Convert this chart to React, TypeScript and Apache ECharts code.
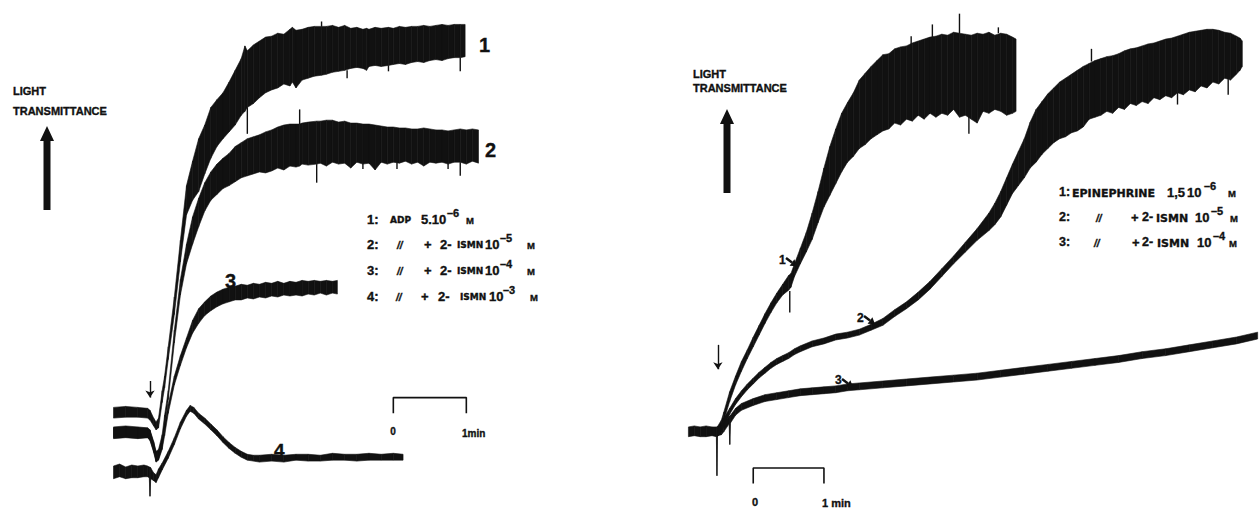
import React, { useEffect, useRef } from "react";
import * as echarts from "echarts";

const INK = "#111111";
const SANS = '"Liberation Sans", Arial, Helvetica, sans-serif';
const WIDE = '"DejaVu Sans", "Liberation Sans", sans-serif';

// ---------- Left panel: ADP 5.10^-6 M (time in s after addition, transmittance in arbitrary units)
const L1_T = [-30, -20, -10, -2, 0, 3, 5, 7, 10, 12, 15, 20, 25, 30, 35, 40, 45, 50, 55, 60, 65, 70, 75, 78, 80, 85, 90, 95, 100, 105, 110, 115, 117, 120, 125, 130, 135, 141, 145, 150, 155, 160, 165, 170, 175, 178, 180, 185, 190, 196, 200, 205, 210, 215, 220, 225, 230, 235, 240, 245, 250, 255, 259];
const L1_HI = [20.75, 21, 20.75, 20.5, 20, 18, 17, 18, 25, 28.75, 36.25, 49, 63.5, 77.5, 83.75, 89.5, 93, 97.5, 99.5, 101.25, 104, 107, 110, 113.25, 112, 113.5, 114.5, 115.5, 115.75, 116.5, 116.25, 117.5, 118, 117.25, 117.5, 118, 118.25, 118.25, 118.25, 118.5, 118, 118.5, 117.75, 118, 117.5, 117.75, 117.5, 118, 117.75, 118, 117.75, 118.25, 118, 118.25, 118.25, 118.5, 118.25, 118.5, 118.75, 118.5, 118.75, 118.75, 118.75];
const L1_LO = [18, 18.25, 18.25, 18, 17.5, 16, 15, 15.5, 22, 25.75, 33, 44.5, 58, 70, 73.75, 76, 80.5, 84.5, 87.5, 89.5, 91.25, 93, 95.5, 96.5, 97.5, 98.5, 100, 101.25, 102, 102.5, 103.5, 103, 104, 102.5, 104.5, 105, 105.5, 105.75, 106, 106.5, 106.75, 107, 107.5, 107.75, 107.5, 107, 108, 108.25, 108, 108.25, 108.5, 108.75, 108.5, 109, 109.25, 109, 109.5, 109.75, 109.5, 110, 110.25, 110.25, 110.5];

const L2_T = [-30, -20, -10, -2, 0, 3, 5, 7, 10, 12, 15, 20, 25, 30, 35, 40, 45, 50, 55, 60, 65, 70, 75, 80, 85, 90, 95, 100, 105, 110, 115, 120, 123, 125, 130, 137, 140, 145, 150, 155, 160, 165, 170, 175, 180, 185, 190, 195, 200, 205, 210, 215, 220, 225, 230, 235, 240, 245, 250, 255, 260, 265, 270];
const L2_HI = [15.75, 16, 15.75, 15.5, 15, 12, 9.5, 10, 13.75, 18.75, 25, 40.5, 53.5, 62.5, 69.5, 74.25, 78.25, 81, 83, 84.5, 85.75, 87.5, 88.5, 89.5, 90, 90.5, 91.25, 91.75, 92.5, 93, 93.25, 93.25, 93.25, 93.5, 93.75, 94, 94, 94.25, 94.25, 93.75, 94, 93.5, 93.5, 93.25, 93.25, 93, 92.75, 92.5, 92.5, 92.25, 92.25, 92, 92, 92.25, 92, 91.75, 91.75, 91.5, 91.75, 92, 91.75, 92, 91.75];
const L2_LO = [13, 13.25, 13, 13, 12.5, 9.5, 7, 7.5, 11, 15.75, 22.75, 37.25, 49.5, 57.5, 62.5, 67, 71, 73.75, 75.25, 76.75, 77.5, 78.5, 79.5, 80, 80.5, 81, 80.75, 81.25, 82, 81.5, 82.5, 82.25, 82.5, 83, 82.75, 83, 83.25, 82.5, 83.5, 83, 83.25, 82, 83.5, 83, 83.25, 81.5, 83.5, 83, 83.5, 83.25, 83.75, 83, 83.5, 82.5, 83.5, 83.25, 83.5, 83, 83.5, 83.5, 83, 83.75, 83.25];

const L3_T = [-30, -20, -10, -2, 0, 3, 5, 7, 10, 12, 15, 20, 25, 30, 35, 40, 45, 50, 55, 60, 65, 70, 75, 80, 85, 90, 95, 100, 105, 110, 115, 120, 125, 130, 135, 140, 145, 150, 154];
const L3_HI = [15.5, 15.75, 15.5, 15.5, 14.75, 11.75, 9.25, 9.5, 12.5, 16.25, 21.5, 28.75, 34, 38.5, 43, 46, 47.75, 49.25, 50.25, 51, 51.5, 51.75, 52.25, 52, 52.5, 52.25, 52.75, 52.5, 53, 52.5, 53, 52.75, 53.25, 53, 53.25, 53, 53.25, 53, 53.25];
const L3_LO = [12.75, 13, 12.75, 13, 12.25, 9.25, 6.75, 7.25, 10, 13.5, 19.25, 26.5, 31.5, 36, 39.75, 42.25, 44.25, 45.5, 46.5, 47.25, 47.75, 48.25, 48.25, 48.75, 48.5, 49, 48.75, 49.25, 49, 49.5, 49.25, 49.5, 49.25, 49.75, 49.5, 50, 49.5, 50, 49.75];

const L4_T = [-30, -25, -20, -15, -10, -5, -2, -0.6, 0, 0.6, 3, 5, 7, 10, 15, 20, 25, 30, 33, 36, 40, 45, 50, 55, 60, 65, 70, 75, 80, 85, 90, 100, 110, 120, 130, 140, 150, 160, 170, 180, 190, 200, 208];
const L4_HI = [5.75, 6.25, 5.5, 6, 5.75, 6, 5.75, 5.5, 5.5, 5.25, 4, 3.5, 5, 6.5, 9.5, 13, 17, 20, 21.25, 20.75, 19.25, 18, 16.5, 15, 13.25, 11.75, 10.5, 9.5, 8.75, 8.5, 8.5, 8.75, 8.5, 8.75, 8.75, 8.5, 9, 8.75, 8.75, 9, 8.75, 9, 8.75];
const L4_LO = [2.5, 3, 2.5, 2.75, 2.75, 3, 3, 2.75, -2, 2.5, 2, 1.5, 2.75, 4.75, 7.75, 11.25, 15.25, 18.5, 19.75, 19.25, 17.75, 16.5, 15, 13.5, 11.75, 10.25, 9, 8, 7.25, 7, 6.75, 7, 6.75, 7.25, 7, 7, 7.25, 7.25, 7, 7.25, 7.25, 7.25, 7.25];

// Isolated noise spikes: time, band edge, spike tip
const LS_T = [80, 141, 162, 196, 255, 123, 137, 175, 203, 245, 255];
const LS_A = [97.5, 118.25, 107, 108.25, 110.25, 93.25, 83, 83, 83.5, 83, 83.5];
const LS_B = [90.75, 119.5, 105, 106.75, 106.75, 97, 78.25, 81.75, 81.75, 81.75, 80];

// ---------- Right panel: epinephrine 1,5 10^-6 M
const R1_T = [-25, -20, -15, -10, -5, -1.3, -0.8, -0.3, 0, 3, 5, 10, 15, 20, 25, 30, 35, 40, 45, 50, 55, 60, 62, 65, 70, 75, 80, 85, 90, 95, 100, 105, 110, 115, 120, 125, 130, 135, 140, 145, 150, 155, 160, 165, 170, 175, 180, 185, 190, 195, 200, 205, 210, 215, 220, 225, 230, 235, 240, 245, 250, 253];
const R1_HI = [15.75, 16, 15.75, 16, 15.75, 15.75, 15.75, 15.75, 16, 17.5, 19.5, 24.75, 28.75, 32.5, 35.5, 38.75, 41.75, 44.75, 47.5, 50, 52.25, 54.5, 55, 57.5, 61.5, 65.5, 70.5, 76, 82, 87.5, 92, 96, 98.75, 101.25, 104.5, 106.25, 108, 109.5, 111, 111.25, 112.5, 113, 113.25, 114, 114.5, 115, 115.5, 115.75, 116.25, 116, 116.75, 116.5, 116.25, 116, 116.5, 116.25, 116.75, 116, 116.5, 116.25, 115.5, 115];
const R1_LO = [13.25, 13.5, 13.25, 13.25, 13.5, 13.25, 3.25, 13.25, 13.5, 15, 17.25, 22.25, 26.5, 30, 33.25, 36.25, 39.25, 42.25, 45, 47.5, 49.5, 50.75, 51.5, 54.25, 57.5, 60.5, 63.75, 68, 72, 75, 78, 81, 83.5, 85, 87, 88, 89.5, 90.5, 91.5, 92, 93.5, 93, 94.5, 94, 95.5, 94.5, 96, 95, 96, 95.5, 97, 95, 95.5, 94.5, 93.5, 96.5, 96, 97, 96.5, 95.5, 96, 96.5];

const R2_T = [0, 3, 5, 10, 15, 20, 25, 30, 35, 40, 45, 50, 55, 60, 65, 70, 80, 90, 100, 110, 120, 130, 140, 150, 160, 170, 180, 190, 200, 210, 220, 230, 235, 240, 245, 250, 255, 260, 265, 270, 275, 280, 285, 290, 295, 300, 305, 310, 315, 320, 325, 330, 335, 340, 345, 350, 355, 360, 365, 370, 375, 380, 385, 390, 395, 400, 405, 410, 415, 420, 425, 430, 435, 440, 443, 445];
const R2_HI = [15.75, 16.75, 18, 20.5, 23, 25, 26.75, 28.25, 29.75, 31, 32.25, 33.25, 34, 34.75, 35.75, 36.5, 37.75, 38.5, 39.5, 40, 40.75, 42, 43.5, 45.75, 47.75, 50.25, 53, 56.25, 59.5, 63, 66.5, 70.5, 73, 76, 79.5, 83, 86.25, 89.5, 93.75, 97, 99, 101, 102.5, 104, 105, 106, 107, 108, 108.75, 109.5, 110, 110.5, 110.75, 111.25, 112, 112.5, 112.75, 113.25, 113.75, 114, 114.5, 115, 115.25, 115.75, 116.25, 116.75, 117, 117.25, 117.5, 117.5, 117.25, 116.75, 116.5, 115.75, 115.25, 114.5];
const R2_LO = [13.5, 14.5, 15.75, 19, 21.5, 23.5, 25.25, 26.75, 28.25, 29.5, 30.75, 31.75, 32.5, 33.25, 34.25, 35, 36.25, 37, 38, 38.5, 39.25, 40.5, 41.75, 44, 46, 48.25, 51, 54.25, 57.5, 60.5, 63.5, 66, 67.5, 69.5, 72.5, 75.5, 77.5, 79.5, 82, 83.5, 85.5, 87, 88.5, 89.5, 90, 91, 91.5, 92.5, 94.5, 95, 95.5, 96.5, 96, 97.5, 97, 98.5, 98, 99, 98.5, 100, 99.5, 100.5, 100, 101.25, 100.75, 102, 101.5, 103, 102.5, 104, 103.5, 105, 104.5, 106, 107, 108];

const R3_T = [0, 3, 5, 9.5, 10.1, 10.7, 15, 20, 30, 40, 50, 60, 70, 80, 90, 100, 110, 120, 140, 160, 180, 200, 220, 240, 260, 280, 300, 320, 340, 360, 380, 400, 420, 440, 458];
const R3_HI = [15.75, 16, 16.75, 18.5, 18.5, 18.75, 20.5, 21.75, 23, 24, 24.5, 25, 25.5, 25.75, 26, 26.25, 26.75, 27, 27.5, 28, 28.5, 29, 29.5, 30.25, 31, 31.75, 32.5, 33.25, 34, 35, 35.75, 36.75, 37.75, 38.75, 40];
const R3_LO = [13.5, 13.75, 14.5, 16.5, 11.25, 16.75, 18.75, 20, 21.25, 22.25, 22.75, 23.25, 23.75, 24, 24.25, 24.5, 25, 25.25, 25.75, 26.25, 26.75, 27.25, 27.75, 28.5, 29.25, 30, 30.75, 31.5, 32.25, 33.25, 34, 35, 36, 37, 38.25];

// Isolated noise spikes
const RS_T = [61, 164, 182, 205, 213, 238, 317, 390, 433];
const RS_A = [50.5, 113.5, 115.5, 116.5, 95.5, 116.5, 109.25, 101.25, 104.75];
const RS_B = [45, 115.75, 118.75, 121.5, 90.75, 118, 112.5, 98.25, 100.75];

// Scale bars (1 min) and addition arrows, in data units
const L_SCALE = [[200, 19.25], [200, 23.25], [260, 23.25], [260, 19.25]];
const R_SCALE = [[30, 1.25], [30, 5.25], [90, 5.25], [90, 1.25]];
const L_ADD = [[0, 27.5], [0, 23.25]];
const R_ADD = [[0, 36.75], [0, 30.5]];

const TRACES = [
  { g: 0, t: L1_T, lo: L1_LO, hi: L1_HI },
  { g: 0, t: L2_T, lo: L2_LO, hi: L2_HI },
  { g: 0, t: L3_T, lo: L3_LO, hi: L3_HI },
  { g: 0, t: L4_T, lo: L4_LO, hi: L4_HI },
  { g: 1, t: R1_T, lo: R1_LO, hi: R1_HI },
  { g: 1, t: R2_T, lo: R2_LO, hi: R2_HI },
  { g: 1, t: R3_T, lo: R3_LO, hi: R3_HI },
];

const SPIKES = [
  { g: 0, t: LS_T, a: LS_A, b: LS_B },
  { g: 1, t: RS_T, a: RS_A, b: RS_B },
];

function segments(t: number[], lo: number[], hi: number[]) {
  const n = Math.min(t.length, lo.length, hi.length);
  const out: number[][] = [];
  for (let i = 0; i < n - 1; i++) out.push([t[i], lo[i], hi[i], t[i + 1], lo[i + 1], hi[i + 1]]);
  return out;
}

function txt(x: number, y: number, text: string, size: number, o: any = {}) {
  const fam = o.fam || SANS;
  return {
    type: "text",
    x,
    y,
    silent: true,
    style: {
      text,
      fill: INK,
      stroke: INK,
      lineWidth: o.stroke ?? 0.35,
      font: `${o.italic ? "italic " : ""}${o.weight || "bold"} ${size}px ${fam}`,
      align: o.align || "left",
      verticalAlign: "middle",
    },
  };
}

function smallArrow(x: number, y: number) {
  const tip = [x + 11, y + 8.25];
  const base = [x + 6, y + 4.5];
  return [
    { type: "line", silent: true, shape: { x1: x, y1: y, x2: base[0], y2: base[1] }, style: { stroke: INK, lineWidth: 2.4 } },
    {
      type: "polygon",
      silent: true,
      shape: { points: [tip, [base[0] - 2.4, base[1] + 3.2], [base[0] + 2.4, base[1] - 3.2]] },
      style: { fill: INK },
    },
  ];
}

function bigArrow(cx: number, tipY: number, bottomY: number) {
  return [
    { type: "rect", silent: true, shape: { x: cx - 3.5, y: tipY + 12, width: 7, height: bottomY - tipY - 12 }, style: { fill: INK } },
    { type: "polygon", silent: true, shape: { points: [[cx, tipY], [cx - 7, tipY + 15], [cx + 7, tipY + 15]] }, style: { fill: INK } },
  ];
}

function leftLegendLine(y: number, num: string, exp: string, xs: number[]) {
  return [
    txt(367, y, num + ":", 13),
    txt(xs[0], y + 1, "//", 10, { italic: true }),
    txt(xs[1], y, "+", 13),
    txt(xs[2], y, "2-", 13),
    txt(xs[3], y + 1.2, "ISMN", 9, { fam: WIDE }),
    txt(xs[4], y, "10", 13),
    txt(xs[5], y - 6, "\u2013" + exp, 11),
    txt(xs[6], y + 1.2, "M", 9.5),
  ];
}

function rightLegendLine(y: number, num: string, exp: string, xs: number[]) {
  return [
    txt(1059, y, num + ":", 12.5),
    txt(xs[0], y + 1, "//", 10, { italic: true }),
    txt(xs[1], y, "+", 13),
    txt(xs[2], y, "2-", 12.5),
    txt(xs[3], y + 1.2, "ISMN", 11, { fam: WIDE }),
    txt(xs[4], y, "10", 13),
    txt(xs[5], y - 6, "\u2013" + exp, 11),
    txt(xs[6], y + 1.2, "M", 9.5),
  ];
}

export default function App() {
  const ref = useRef<HTMLDivElement>(null);
  useEffect(() => {
    if (!ref.current) return;
    const chart = echarts.init(ref.current, null, { renderer: "svg" });

    const bandSeries = TRACES.map((tr) => ({
      type: "custom",
      xAxisIndex: tr.g,
      yAxisIndex: tr.g,
      silent: true,
      clip: false,
      encode: { x: [0, 3], y: [1, 2, 4, 5] },
      data: segments(tr.t, tr.lo, tr.hi),
      renderItem: (params: any, api: any) => {
        const a = api.coord([api.value(0), api.value(1)]);
        const b = api.coord([api.value(3), api.value(4)]);
        const c = api.coord([api.value(3), api.value(5)]);
        const d = api.coord([api.value(0), api.value(2)]);
        return {
          type: "polygon",
          shape: { points: [a, b, c, d] },
          style: { fill: INK, stroke: INK, lineWidth: 0.6 },
        };
      },
    }));

    const spikeSeries = SPIKES.map((s) => ({
      type: "custom",
      xAxisIndex: s.g,
      yAxisIndex: s.g,
      silent: true,
      clip: false,
      encode: { x: 0, y: [1, 2] },
      data: s.t.map((t, i) => [t, s.a[i], s.b[i]]),
      renderItem: (params: any, api: any) => {
        const a = api.coord([api.value(0), api.value(1)]);
        const b = api.coord([api.value(0), api.value(2)]);
        return {
          type: "line",
          shape: { x1: a[0], y1: a[1], x2: b[0], y2: b[1] },
          style: { stroke: INK, lineWidth: 1.4 },
        };
      },
    }));

    const scaleSeries = [
      { g: 0, data: L_SCALE, add: L_ADD },
      { g: 1, data: R_SCALE, add: R_ADD },
    ].map((s) => ({
      type: "line",
      xAxisIndex: s.g,
      yAxisIndex: s.g,
      silent: true,
      symbol: "none",
      data: s.data,
      lineStyle: { color: INK, width: 1.6 },
      markLine: {
        silent: true,
        symbol: ["none", "arrow"],
        symbolSize: 7,
        label: { show: false },
        lineStyle: { color: INK, width: 1.4, type: "solid" },
        data: [[{ coord: s.add[0] }, { coord: s.add[1] }]],
      },
    }));

    const graphics: any[] = [
      // left panel texts
      txt(13, 91, "LIGHT", 11),
      txt(13, 110.5, "TRANSMITTANCE", 11),
      ...bigArrow(47, 126, 210),
      txt(479, 45, "1", 20),
      txt(485, 150, "2", 20),
      txt(225, 281, "3", 20),
      txt(274, 450, "4", 19),
      txt(367, 219, "1:", 13),
      txt(390, 220.2, "ADP", 9, { fam: WIDE }),
      txt(421, 219, "5.10", 13),
      txt(447, 213, "\u20136", 11),
      txt(466, 220.2, "M", 9.5),
      ...leftLegendLine(244, "2", "5", [397, 424, 440, 457, 485, 500, 527]),
      ...leftLegendLine(270, "3", "4", [397, 424, 440, 457, 485, 500, 527]),
      ...leftLegendLine(296, "4", "3", [396, 421, 438, 460, 489, 503, 530]),
      txt(393, 431, "0", 10, { align: "center" }),
      txt(462, 433, "1min", 10),
      // right panel texts
      txt(693, 74, "LIGHT", 11),
      txt(693, 87.5, "TRANSMITTANCE", 11),
      ...bigArrow(727, 109, 193),
      txt(779, 260, "1", 12),
      ...smallArrow(786, 258),
      txt(857, 318, "2", 12),
      ...smallArrow(864, 316),
      txt(835, 380, "3", 12),
      ...smallArrow(842, 379),
      txt(1059, 192, "1:", 12.5),
      txt(1072, 193.2, "EPINEPHRINE", 11, { fam: WIDE }),
      txt(1167, 192, "1,5", 13),
      txt(1187, 192, "10", 13),
      txt(1204, 186, "\u20136", 11),
      txt(1228, 193.2, "M", 9.5),
      ...rightLegendLine(217, "2", "5", [1096, 1131, 1142, 1156, 1195, 1211, 1230]),
      ...rightLegendLine(242, "3", "4", [1094, 1132, 1142, 1157, 1197, 1213, 1229]),
      txt(755, 502, "0", 11, { align: "center" }),
      txt(822, 503, "1 min", 11),
    ];

    chart.setOption({
      animation: false,
      backgroundColor: "#ffffff",
      grid: [
        { left: 113.5, top: 0, width: 371.08, height: 520 },
        { left: 688.42, top: 0, width: 573.9, height: 520 },
      ],
      xAxis: [
        { type: "value", gridIndex: 0, min: -30, max: 275, show: false },
        { type: "value", gridIndex: 1, min: -25, max: 460, show: false },
      ],
      yAxis: [
        { type: "value", gridIndex: 0, min: -5, max: 125, show: false },
        { type: "value", gridIndex: 1, min: -5, max: 125, show: false },
      ],
      series: [...bandSeries, ...spikeSeries, ...scaleSeries],
      graphic: graphics,
    });
    return () => chart.dispose();
  }, []);
  return (
    <div
      ref={ref}
      style={{ position: "absolute", left: 0, top: 0, width: 1260, height: 508, background: "#fff" }}
    />
  );
}
